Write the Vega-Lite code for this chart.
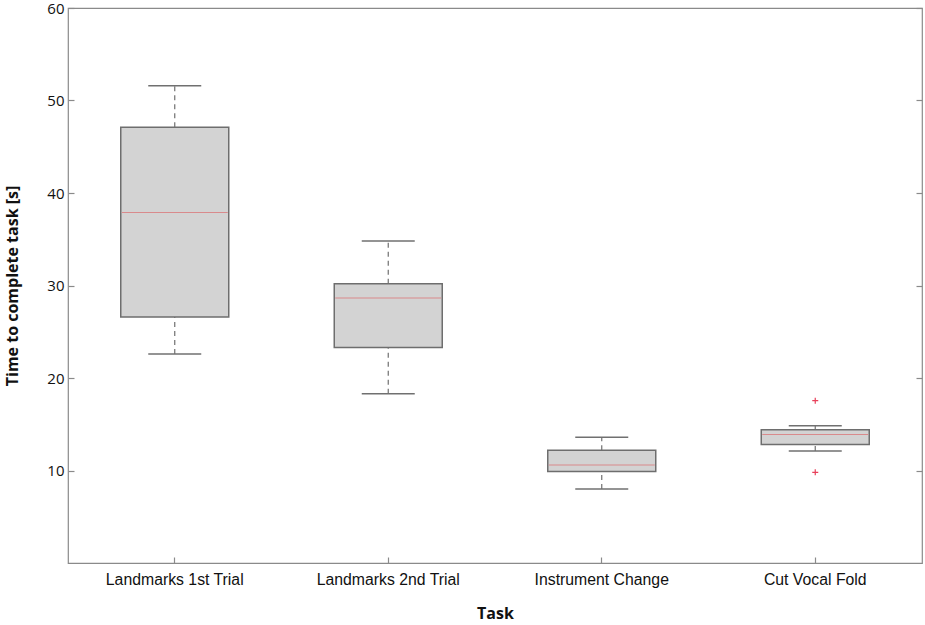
{
  "$schema": "https://vega.github.io/schema/vega-lite/v6.json",
  "width": 854,
  "height": 555,
  "autosize": {"type": "none"},
  "padding": {"left": 68, "top": 8, "right": 3, "bottom": 62},
  "background": "white",
  "config": {
    "view": {"stroke": "#8a8a8a", "strokeWidth": 1.2},
    "axis": {
      "domain": false,
      "grid": false,
      "tickColor": "#8a8a8a",
      "tickWidth": 1.2,
      "labelColor": "#111",
      "titleColor": "#111"
    }
  },
  "datasets": {
    "boxes": [
      {"task": "Landmarks 1st Trial", "lo": 22.6, "q1": 26.6, "median": 37.9, "q3": 47.1, "hi": 51.6},
      {"task": "Landmarks 2nd Trial", "lo": 18.3, "q1": 23.3, "median": 28.65, "q3": 30.2, "hi": 34.8},
      {"task": "Instrument Change", "lo": 8.0, "q1": 9.9, "median": 10.6, "q3": 12.2, "hi": 13.6},
      {"task": "Cut Vocal Fold", "lo": 12.1, "q1": 12.8, "median": 13.9, "q3": 14.4, "hi": 14.85}
    ],
    "outliers": [
      {"task": "Cut Vocal Fold", "value": 17.55},
      {"task": "Cut Vocal Fold", "value": 9.8}
    ]
  },
  "resolve": {"axis": {"y": "independent"}},
  "layer": [
    {
      "data": {"name": "boxes"},
      "mark": {"type": "rule", "color": "#707070", "strokeWidth": 1.2, "strokeDash": [5, 4]},
      "encoding": {
        "x": {
          "field": "task", "type": "nominal",
          "scale": {"type": "band", "paddingInner": 0, "paddingOuter": 0, "domain": ["Landmarks 1st Trial", "Landmarks 2nd Trial", "Instrument Change", "Cut Vocal Fold"]},
          "axis": {
            "title": "Task", "labelAngle": 0, "tickSize": -6, "ticks": true,
            "labelFont": "Liberation Sans", "labelFontSize": 15.8, "labelPadding": 15,
            "titleFont": "Open Sans", "titleFontSize": 16, "titleFontWeight": "bold", "titlePadding": 19
          }
        },
        "y": {
          "field": "lo", "type": "quantitative",
          "scale": {"domain": [0, 60], "nice": false, "zero": false},
          "axis": {
            "orient": "left", "title": "Time to complete task [s]", "values": [10, 20, 30, 40, 50, 60],
            "tickSize": -6, "labelFont": "Open Sans", "labelFontSize": 15, "labelPadding": 10,
            "titleFont": "Open Sans", "titleFontSize": 16, "titleFontWeight": "bold", "titlePadding": 26
          }
        },
        "y2": {"field": "q1"}
      }
    },
    {
      "data": {"name": "boxes"},
      "mark": {"type": "rule", "color": "#707070", "strokeWidth": 1.2, "strokeDash": [5, 4]},
      "encoding": {
        "x": {"field": "task", "type": "nominal"},
        "y": {
          "field": "q3", "type": "quantitative",
          "axis": {"orient": "right", "title": null, "labels": false, "values": [10, 20, 30, 40, 50, 60], "tickSize": -6}
        },
        "y2": {"field": "hi"}
      }
    },
    {
      "data": {"name": "boxes"},
      "mark": {"type": "bar", "size": 108, "fill": "#d3d3d3", "stroke": "#6e6e6e", "strokeWidth": 1.5},
      "encoding": {
        "x": {"field": "task", "type": "nominal"},
        "y": {"field": "q1", "type": "quantitative", "axis": null},
        "y2": {"field": "q3"}
      }
    },
    {
      "data": {"name": "boxes"},
      "mark": {"type": "tick", "size": 106, "thickness": 1, "color": "#d98a8c", "opacity": 1},
      "encoding": {
        "x": {"field": "task", "type": "nominal"},
        "y": {"field": "median", "type": "quantitative", "axis": null}
      }
    },
    {
      "data": {"name": "boxes"},
      "mark": {"type": "tick", "size": 53, "thickness": 1.5, "color": "#707070", "opacity": 1},
      "encoding": {
        "x": {"field": "task", "type": "nominal"},
        "y": {"field": "lo", "type": "quantitative", "axis": null}
      }
    },
    {
      "data": {"name": "boxes"},
      "mark": {"type": "tick", "size": 53, "thickness": 1.5, "color": "#707070", "opacity": 1},
      "encoding": {
        "x": {"field": "task", "type": "nominal"},
        "y": {"field": "hi", "type": "quantitative", "axis": null}
      }
    },
    {
      "data": {"name": "outliers"},
      "mark": {"type": "point", "shape": "M-1,0L1,0M0,-1L0,1", "filled": false, "size": 36, "stroke": "#e8405a", "strokeWidth": 1.2, "opacity": 1},
      "encoding": {
        "x": {"field": "task", "type": "nominal"},
        "y": {"field": "value", "type": "quantitative", "axis": null}
      }
    }
  ]
}
